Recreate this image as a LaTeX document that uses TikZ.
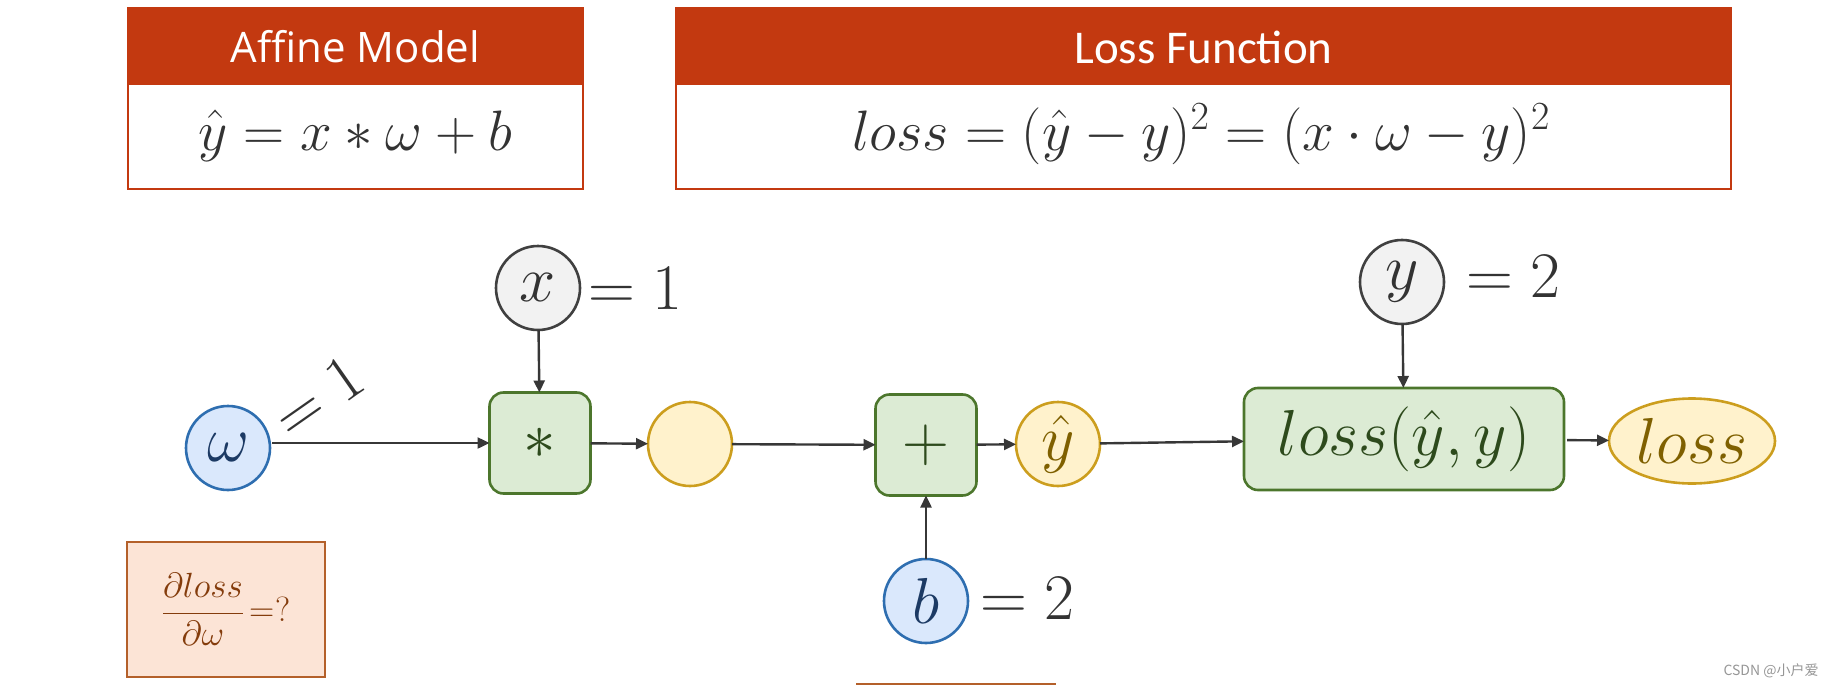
\RequirePackage{fix-cm}
\documentclass[tikz,border=0pt]{standalone}
\usepackage{fontspec}
\usetikzlibrary{arrows.meta,shapes.geometric}
\newfontfamily\hdAfam{Open Sans}
\newfontfamily\hdLfam{Carlito}
\newfontfamily\cjkfam{Noto Sans CJK SC}
\newcommand\grfont{\fontsize{65}{70}\selectfont}
\newcommand\fmfont{\fontsize{57}{62}\selectfont}
\definecolor{hdr}{RGB}{195,57,16}
\definecolor{dark}{RGB}{51,51,51}
\definecolor{arrc}{RGB}{55,55,55}
\definecolor{grayf}{RGB}{242,242,242}
\definecolor{grayb}{RGB}{64,64,64}
\definecolor{bluef}{RGB}{218,232,252}
\definecolor{blueb}{RGB}{46,110,176}
\definecolor{bluet}{RGB}{28,58,100}
\definecolor{greenf}{RGB}{220,235,212}
\definecolor{greenb}{RGB}{76,118,44}
\definecolor{greent}{RGB}{45,74,28}
\definecolor{yellf}{RGB}{255,242,204}
\definecolor{yellb}{RGB}{204,158,30}
\definecolor{yellt}{RGB}{127,96,0}
\definecolor{peachf}{RGB}{252,228,214}
\definecolor{peachb}{RGB}{180,96,42}
\definecolor{peacht}{RGB}{132,60,12}
\definecolor{wmgray}{RGB}{150,150,150}
\tikzset{
  every node/.style={inner sep=0pt, outer sep=0pt},
  nodebase/.style={line width=2.6pt, font=\grfont},
  gcirc/.style={nodebase, circle, minimum size=84pt, draw=grayb, fill=grayf, text=dark},
  bcirc/.style={nodebase, circle, minimum size=84pt, draw=blueb, fill=bluef, text=bluet},
  ycirc/.style={nodebase, circle, minimum size=84pt, draw=yellb, fill=yellf, text=yellt},
  gbox/.style={nodebase, rectangle, rounded corners=14pt, minimum width=101pt, minimum height=101pt, draw=greenb, fill=greenf, text=greent},
  yell ellipse/.style={nodebase, ellipse, minimum width=166pt, minimum height=85pt, draw=yellb, fill=yellf, text=yellt},
  vlabel/.style={font=\grfont, text=dark},
  arr/.style={-{Triangle[length=12pt,width=11pt]}, line width=2.4pt, draw=arrc},
  panel/.style={draw=hdr, line width=2pt},
}
\begin{document}
\begin{tikzpicture}[x=1pt,y=-1pt]
\useasboundingbox (0,0) rectangle (1837,685);

% header panels
\fill[hdr] (128,8) rectangle (583,85);
\draw[panel] (128,8) rectangle (583,189);
\node[font=\hdAfam\fontsize{42}{46}\selectfont, text=white] (tA) at (355.5,47) {Affine Model};
\node[anchor=base, font=\fmfont, text=dark] (fA) at (355.5,150) {$\hat{y} = x \ast \omega + b$};

\fill[hdr] (676,8) rectangle (1731,85);
\draw[panel] (676,8) rectangle (1731,189);
\node[font=\hdLfam\fontsize{47}{50}\selectfont, text=white] (tL) at (1203.5,47) {Loss Function};
\node[anchor=base, font=\fmfont, text=dark] (fL) at (1201,150) {$loss = (\hat{y} - y)^2 = (x \cdot \omega - y)^2$};

% graph nodes
\node[bcirc] (w) at (228,448) {$\omega$};
\node[gcirc] (x) at (538,288) {$x$};
\node[gbox] (mul) at (540,443) {$\ast$};
\node[ycirc] (m) at (690,444) {};
\node[gbox] (add) at (926,445) {$+$};
\node[bcirc] (b) at (926,601) {$b$};
\node[ycirc] (yh) at (1058,444) {$\hat{y}$};
\node[gcirc] (y) at (1402,282) {$y$};
\node[gbox, minimum width=320pt, minimum height=102pt] (L) at (1404,439) {$loss(\hat{y},y)$};
\node[yell ellipse] (loss) at (1692,441) {$loss$};

% value labels
\node[vlabel, rotate=35] (wv) at (318,397) {$=1$};
\node[vlabel, anchor=west] (xv) at (588,289) {$=1$};
\node[vlabel, anchor=west] (bv) at (980,599) {$=2$};
\node[vlabel, anchor=west] (yv) at (1466,277) {$=2$};

% connectors
\draw[arr] ([xshift=2pt]w.east |- mul.west) -- (mul.west);
\draw[arr] (x) -- (mul);
\draw[arr] (mul) -- (m);
\draw[arr] (m) -- (add);
\draw[arr] (b) -- (add);
\draw[arr] (add) -- (yh);
\draw[arr] (yh) -- (L);
\draw[arr] (y) -- (L);
\draw[arr, shorten <=3pt] (L) -- (loss);

% question box
\node[draw=peachb, fill=peachf, line width=2.4pt, minimum width=198pt, minimum height=135pt, text=peacht, font=\fontsize{35}{40}\selectfont] (q) at (226,609.5)
  {$\displaystyle\frac{\partial loss}{\partial \omega}$\,=?};

% cut-off box edge at bottom
\coordinate (e1) at (856,684);
\coordinate (e2) at (1056,684);
\draw[draw=peachb, line width=2pt] (e1) -- (e2);

% watermark
\node[font=\cjkfam\fontsize{14}{16}\selectfont, text=wmgray] (wm) at (1771,671) {CSDN @小户爱};
\end{tikzpicture}
\end{document}
